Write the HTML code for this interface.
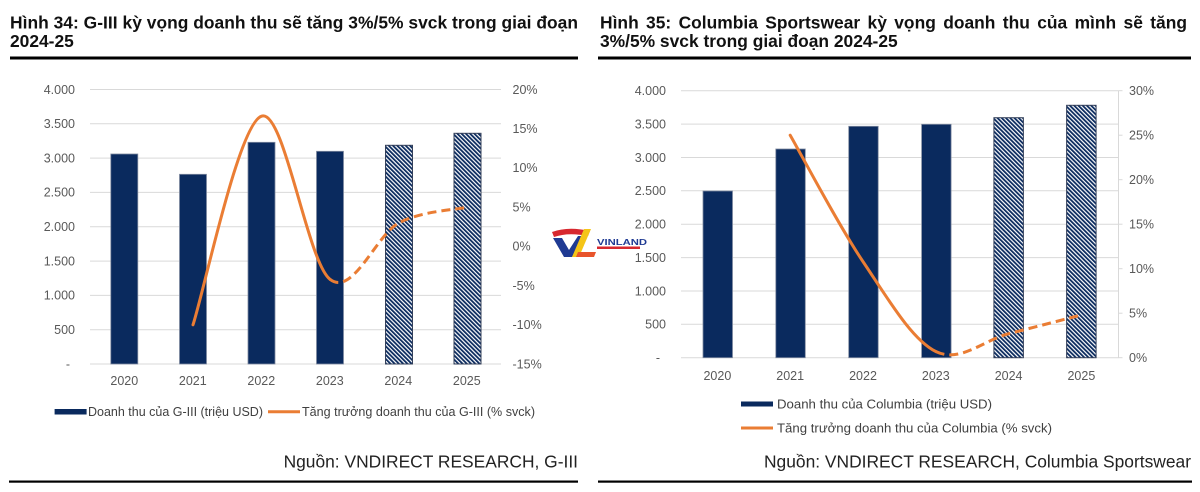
<!DOCTYPE html>
<html><head><meta charset="utf-8"><style>
html,body{margin:0;padding:0;background:#fff;}
svg{display:block;}
text{font-family:"Liberation Sans",Arial,sans-serif;}
.ax{font-size:12.5px;fill:#595959;}
.lg{font-size:13px;fill:#404040;}
.tt{font-size:17.4px;font-weight:bold;fill:#111;}
.src{font-size:17.4px;fill:#222;}
</style></head><body>
<svg width="1200" height="492" viewBox="0 0 1200 492" xmlns="http://www.w3.org/2000/svg">
<defs>
<pattern id="h" patternUnits="userSpaceOnUse" width="3" height="3" patternTransform="rotate(-45)">
<rect width="3" height="3" fill="#ffffff"/>
<rect width="1.8" height="3" fill="#0a2a5e"/>
</pattern>
</defs>

<!-- ============ LEFT PANEL ============ -->
<text class="tt" x="10" y="28.5" textLength="568" lengthAdjust="spacing">Hình 34: G-III kỳ vọng doanh thu sẽ tăng 3%/5% svck trong giai đoạn</text>
<text class="tt" x="10" y="47">2024-25</text>
<rect x="10" y="56.5" width="568" height="3" fill="#000"/>

<g stroke="#d9d9d9" stroke-width="1">
<line x1="90" x2="501" y1="364" y2="364"/>
<line x1="90" x2="501" y1="329.7" y2="329.7"/>
<line x1="90" x2="501" y1="295.4" y2="295.4"/>
<line x1="90" x2="501" y1="261.1" y2="261.1"/>
<line x1="90" x2="501" y1="226.8" y2="226.8"/>
<line x1="90" x2="501" y1="192.4" y2="192.4"/>
<line x1="90" x2="501" y1="158.1" y2="158.1"/>
<line x1="90" x2="501" y1="123.8" y2="123.8"/>
<line x1="90" x2="501" y1="89.5" y2="89.5"/>
</g>
<g class="ax" text-anchor="end">
<text x="75" y="93.8">4.000</text>
<text x="75" y="128.1">3.500</text>
<text x="75" y="162.4">3.000</text>
<text x="75" y="196.7">2.500</text>
<text x="75" y="231.1">2.000</text>
<text x="75" y="265.4">1.500</text>
<text x="75" y="299.7">1.000</text>
<text x="75" y="334">500</text>
<text x="70" y="368.3">-</text>
</g>
<g class="ax">
<text x="512.5" y="93.8">20%</text>
<text x="512.5" y="133">15%</text>
<text x="512.5" y="172.2">10%</text>
<text x="512.5" y="211.4">5%</text>
<text x="512.5" y="250.6">0%</text>
<text x="512.5" y="289.9">-5%</text>
<text x="512.5" y="329.1">-10%</text>
<text x="512.5" y="368.3">-15%</text>
</g>
<g stroke="#7f8aa0" stroke-width="0.8" fill="#0a2a5e">
<rect x="110.8" y="154" width="27" height="210"/>
<rect x="179.5" y="174.3" width="27" height="189.7"/>
<rect x="248" y="142.3" width="27" height="221.7"/>
<rect x="316.5" y="151.3" width="27" height="212.7"/>
</g>
<g stroke="#34405a" stroke-width="1" fill="url(#h)">
<rect x="385.5" y="145.3" width="27" height="218.7"/>
<rect x="454" y="133.3" width="27" height="230.7"/>
</g>
<path d="M193,324.8 C204.4,290 238.7,123.8 261.5,116.2 C284.3,108.6 307.1,261.5 330,279.3" fill="none" stroke="#ea7d34" stroke-width="3" stroke-linecap="round"/>
<path d="M330,279.3 C352.9,297.1 376.1,234.8 399,222.8 C421.9,210.8 456.1,209.8 467.5,207.2" fill="none" stroke="#ea7d34" stroke-width="3" stroke-dasharray="9 5"/>
<g class="ax" text-anchor="middle">
<text x="124.3" y="385">2020</text>
<text x="192.8" y="385">2021</text>
<text x="261.3" y="385">2022</text>
<text x="329.8" y="385">2023</text>
<text x="398.3" y="385">2024</text>
<text x="466.8" y="385">2025</text>
</g>
<rect x="54.6" y="409" width="32" height="5.5" fill="#0a2a5e"/>
<text class="lg" x="88" y="416" textLength="175" lengthAdjust="spacingAndGlyphs">Doanh thu của G-III (triệu USD)</text>
<line x1="268" x2="300" y1="411.7" y2="411.7" stroke="#ea7d34" stroke-width="3"/>
<text class="lg" x="302" y="416" textLength="233" lengthAdjust="spacingAndGlyphs">Tăng trưởng doanh thu của G-III (% svck)</text>
<text class="src" x="578" y="467.5" text-anchor="end">Nguồn: VNDIRECT RESEARCH, G-III</text>
<rect x="9" y="480.5" width="569" height="2.2" fill="#000"/>

<!-- ============ RIGHT PANEL ============ -->
<text class="tt" x="600" y="28.5" textLength="587" lengthAdjust="spacing" style="word-spacing:2.5px">Hình 35: Columbia Sportswear kỳ vọng doanh thu của mình sẽ tăng</text>
<text class="tt" x="600" y="47">3%/5% svck trong giai đoạn 2024-25</text>
<rect x="598" y="56.5" width="593" height="3" fill="#000"/>

<g stroke="#d9d9d9" stroke-width="1">
<line x1="681" x2="1118.5" y1="357.7" y2="357.7"/>
<line x1="681" x2="1118.5" y1="324.3" y2="324.3"/>
<line x1="681" x2="1118.5" y1="291" y2="291"/>
<line x1="681" x2="1118.5" y1="257.6" y2="257.6"/>
<line x1="681" x2="1118.5" y1="224.2" y2="224.2"/>
<line x1="681" x2="1118.5" y1="190.8" y2="190.8"/>
<line x1="681" x2="1118.5" y1="157.5" y2="157.5"/>
<line x1="681" x2="1118.5" y1="124.1" y2="124.1"/>
<line x1="681" x2="1118.5" y1="90.7" y2="90.7"/>
<line x1="1118.5" x2="1118.5" y1="90.7" y2="357.7"/>
<line x1="1118.5" x2="1122.5" y1="90.7" y2="90.7"/>
<line x1="1118.5" x2="1122.5" y1="135.2" y2="135.2"/>
<line x1="1118.5" x2="1122.5" y1="179.7" y2="179.7"/>
<line x1="1118.5" x2="1122.5" y1="224.2" y2="224.2"/>
<line x1="1118.5" x2="1122.5" y1="268.7" y2="268.7"/>
<line x1="1118.5" x2="1122.5" y1="313.2" y2="313.2"/>
<line x1="1118.5" x2="1122.5" y1="357.7" y2="357.7"/>
</g>
<g class="ax" text-anchor="end">
<text x="666" y="95">4.000</text>
<text x="666" y="128.4">3.500</text>
<text x="666" y="161.8">3.000</text>
<text x="666" y="195.1">2.500</text>
<text x="666" y="228.5">2.000</text>
<text x="666" y="261.9">1.500</text>
<text x="666" y="295.3">1.000</text>
<text x="666" y="328.6">500</text>
<text x="660" y="362">-</text>
</g>
<g class="ax">
<text x="1129" y="95">30%</text>
<text x="1129" y="139.5">25%</text>
<text x="1129" y="184">20%</text>
<text x="1129" y="228.5">15%</text>
<text x="1129" y="273">10%</text>
<text x="1129" y="317.5">5%</text>
<text x="1129" y="362">0%</text>
</g>
<g stroke="#7f8aa0" stroke-width="0.8" fill="#0a2a5e">
<rect x="703" y="191" width="29.5" height="166.7"/>
<rect x="775.8" y="149" width="29.5" height="208.7"/>
<rect x="848.7" y="126.3" width="29.5" height="231.4"/>
<rect x="921.6" y="124.3" width="29.5" height="233.4"/>
</g>
<g stroke="#34405a" stroke-width="1" fill="url(#h)">
<rect x="993.9" y="117.7" width="29.5" height="240"/>
<rect x="1066.6" y="105.3" width="29.5" height="252.4"/>
</g>
<path d="M790.2,135.2 C802.3,156.3 838.7,225.6 863,261.6 C887.3,297.7 911.5,339.5 935.8,351.5" fill="none" stroke="#ea7d34" stroke-width="3" stroke-linecap="round"/>
<path d="M935.8,351.5 C960.1,363.5 984.3,339.8 1008.6,333.7 C1032.9,327.6 1069.3,318.1 1081.4,315" fill="none" stroke="#ea7d34" stroke-width="3" stroke-dasharray="9 5"/>
<g class="ax" text-anchor="middle">
<text x="717.4" y="380">2020</text>
<text x="790.2" y="380">2021</text>
<text x="863" y="380">2022</text>
<text x="935.8" y="380">2023</text>
<text x="1008.6" y="380">2024</text>
<text x="1081.4" y="380">2025</text>
</g>
<rect x="741" y="401.5" width="32" height="5" fill="#0a2a5e"/>
<text class="lg" x="777" y="408.5" textLength="215" lengthAdjust="spacingAndGlyphs">Doanh thu của Columbia (triệu USD)</text>
<line x1="741" x2="773" y1="428" y2="428" stroke="#ea7d34" stroke-width="3"/>
<text class="lg" x="777" y="432.5" textLength="275" lengthAdjust="spacingAndGlyphs">Tăng trưởng doanh thu của Columbia (% svck)</text>
<text class="src" x="1191" y="467.5" text-anchor="end" textLength="427" lengthAdjust="spacing">Nguồn: VNDIRECT RESEARCH, Columbia Sportswear</text>
<rect x="598" y="480.5" width="594" height="2.2" fill="#000"/>

<!-- watermark logo -->
<g>
<path d="M552,232 Q568,226 590,231 L588,236 Q568,232 554,237 Z" fill="#d7282f"/>
<polygon points="553,238 562,238 569,250 578,236 586,236 572,257 564,257" fill="#1f3a93"/>
<polygon points="584,229 591,229 579,257 572,257" fill="#f5c518"/>
<polygon points="578,252 596,252 594,257 576,257" fill="#e8542b"/>
<text x="597" y="245" font-size="8" font-weight="bold" fill="#1f3a93" textLength="50" lengthAdjust="spacingAndGlyphs">VINLAND</text>
<rect x="597" y="246.5" width="43" height="2.5" fill="#d7282f"/>
</g>
</svg>
</body></html>
